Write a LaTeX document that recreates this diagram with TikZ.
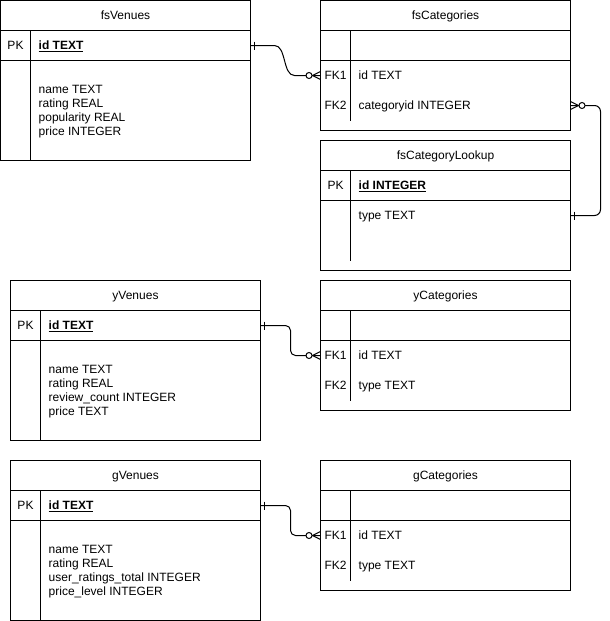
\documentclass[tikz,border=0pt]{standalone}
\usepackage{fontspec}
\setmainfont{Liberation Sans}
\usetikzlibrary{calc}

\begin{document}
\begin{tikzpicture}[x=1pt,y=-1pt,
  every node/.style={font=\fontsize{12}{14}\selectfont, inner sep=0pt},
  tbl/.style={draw, line width=1pt, outer sep=0pt, anchor=north west, minimum width=250pt},
  rule/.style={line width=1pt},
  ttl/.style={anchor=center, text height=9pt, text depth=0.5pt},
  key/.style={anchor=center, text height=9pt, text depth=0.5pt},
  fld/.style={anchor=west, text height=9pt, text depth=0.5pt},
  body/.style={anchor=west, align=left},
  conn/.style={line width=1pt},
  tick/.style={line width=1pt},
  ring/.style={line width=1pt, fill=white}
]
\useasboundingbox (-0.5,-0.5) rectangle (609.5,620.5);

% ---------- fsVenues ----------
\node[tbl, minimum height=160pt] (fsV) at (0,0) {};
\draw[rule] (0,30) -- (250,30) (0,60) -- (250,60) (30,30) -- (30,160);
\node[ttl] (fsVt) at (125,15) {fsVenues};
\node[key] (fsVk) at (15,45) {PK};
\node[fld] (fsVid) at (38,45) {\textbf{\underline{id TEXT}}};
\node[body] (fsVb) at (38,111) {name TEXT\\rating REAL\\popularity REAL\\price INTEGER};

% ---------- fsCategories ----------
\node[tbl, minimum height=130pt] (fsC) at (320,0) {};
\draw[rule] (320,30) -- (570,30) (320,60) -- (570,60) (350,30) -- (350,120);
\node[ttl] (fsCt) at (445,15) {fsCategories};
\node[key] (fsCk1) at (335,75) {FK1};
\node[fld] (fsCf1) at (358,75) {id TEXT};
\node[key] (fsCk2) at (335,105) {FK2};
\node[fld] (fsCf2) at (358,105) {categoryid INTEGER};

% ---------- fsCategoryLookup ----------
\node[tbl, minimum height=130pt] (fsL) at (320,140) {};
\draw[rule] (320,170) -- (570,170) (320,200) -- (570,200) (350,170) -- (350,260);
\node[ttl] (fsLt) at (445,155) {fsCategoryLookup};
\node[key] (fsLk) at (335,185) {PK};
\node[fld] (fsLid) at (358,185) {\textbf{\underline{id INTEGER}}};
\node[fld] (fsLf) at (358,215) {type TEXT};

% ---------- yVenues ----------
\node[tbl, minimum height=160pt] (yV) at (10,280) {};
\draw[rule] (10,310) -- (260,310) (10,340) -- (260,340) (40,310) -- (40,440);
\node[ttl] (yVt) at (135,295) {yVenues};
\node[key] (yVk) at (25,325) {PK};
\node[fld] (yVid) at (48,325) {\textbf{\underline{id TEXT}}};
\node[body] (yVb) at (48,391) {name TEXT\\rating REAL\\review\_count INTEGER\\price TEXT};

% ---------- yCategories ----------
\node[tbl, minimum height=130pt] (yC) at (320,280) {};
\draw[rule] (320,310) -- (570,310) (320,340) -- (570,340) (350,310) -- (350,400);
\node[ttl] (yCt) at (445,295) {yCategories};
\node[key] (yCk1) at (335,355) {FK1};
\node[fld] (yCf1) at (358,355) {id TEXT};
\node[key] (yCk2) at (335,385) {FK2};
\node[fld] (yCf2) at (358,385) {type TEXT};

% ---------- gVenues ----------
\node[tbl, minimum height=160pt] (gV) at (10,460) {};
\draw[rule] (10,490) -- (260,490) (10,520) -- (260,520) (40,490) -- (40,620);
\node[ttl] (gVt) at (135,475) {gVenues};
\node[key] (gVk) at (25,505) {PK};
\node[fld] (gVid) at (48,505) {\textbf{\underline{id TEXT}}};
\node[body] (gVb) at (48,571) {name TEXT\\rating REAL\\user\_ratings\_total INTEGER\\price\_level INTEGER};

% ---------- gCategories ----------
\node[tbl, minimum height=130pt] (gC) at (320,460) {};
\draw[rule] (320,490) -- (570,490) (320,520) -- (570,520) (350,490) -- (350,580);
\node[ttl] (gCt) at (445,475) {gCategories};
\node[key] (gCk1) at (335,535) {FK1};
\node[fld] (gCf1) at (358,535) {id TEXT};
\node[key] (gCk2) at (335,565) {FK2};
\node[fld] (gCf2) at (358,565) {type TEXT};

% ---------- connection points ----------
\coordinate (p1a) at ($(fsV.north east)+(0,45)$);
\coordinate (p1b) at ($(fsC.north west)+(0,75)$);
\coordinate (p2a) at ($(fsC.north east)+(0,105)$);
\coordinate (p2b) at ($(fsL.north east)+(0,75)$);
\coordinate (p3a) at ($(yV.north east)+(0,45)$);
\coordinate (p3b) at ($(yC.north west)+(0,75)$);
\coordinate (p4a) at ($(gV.north east)+(0,45)$);
\coordinate (p4b) at ($(gC.north west)+(0,75)$);

% fsVenues -> fsCategories (curved)
\draw[conn] (p1a) -- ++(24,0) .. controls ++(12,0) and ($(p1b)+(-38,0)$) .. ($(p1b)+(-26,0)$) -- (p1b);
\draw[tick] ($(p1a)+(4,-4)$) -- ($(p1a)+(4,4)$);
\draw[tick] ($(p1b)+(-8,0)$) -- ($(p1b)+(0,-4)$) ($(p1b)+(-8,0)$) -- ($(p1b)+(0,4)$);
\draw[ring] ($(p1b)+(-11.5,0)$) circle (3);

% fsCategories -> fsCategoryLookup (loop on the right)
\draw[conn, rounded corners=6pt] (p2a) -- ++(30,0) |- (p2b);
\draw[tick] ($(p2b)+(4,-4)$) -- ($(p2b)+(4,4)$);
\draw[tick] ($(p2a)+(8,0)$) -- ($(p2a)+(0,-4)$) ($(p2a)+(8,0)$) -- ($(p2a)+(0,4)$);
\draw[ring] ($(p2a)+(11.5,0)$) circle (3);

% yVenues -> yCategories
\draw[conn, rounded corners=5pt] (p3a) -- ++(30,0) |- (p3b);
\draw[tick] ($(p3a)+(4,-4)$) -- ($(p3a)+(4,4)$);
\draw[tick] ($(p3b)+(-8,0)$) -- ($(p3b)+(0,-4)$) ($(p3b)+(-8,0)$) -- ($(p3b)+(0,4)$);
\draw[ring] ($(p3b)+(-11.5,0)$) circle (3);

% gVenues -> gCategories
\draw[conn, rounded corners=5pt] (p4a) -- ++(30,0) |- (p4b);
\draw[tick] ($(p4a)+(4,-4)$) -- ($(p4a)+(4,4)$);
\draw[tick] ($(p4b)+(-8,0)$) -- ($(p4b)+(0,-4)$) ($(p4b)+(-8,0)$) -- ($(p4b)+(0,4)$);
\draw[ring] ($(p4b)+(-11.5,0)$) circle (3);
\end{tikzpicture}
\end{document}
